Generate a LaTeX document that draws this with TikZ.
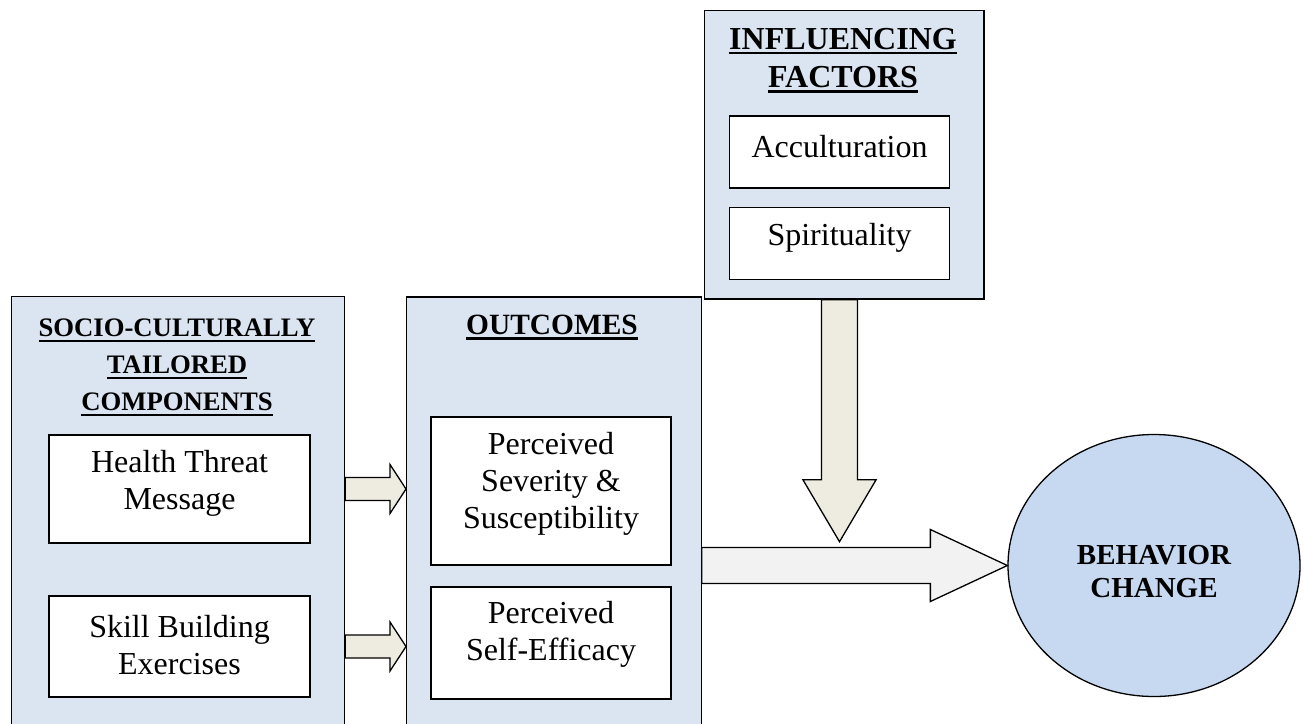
\documentclass[tikz,border=0pt]{standalone}
\usepackage{fontspec}
\setmainfont{Liberation Serif}
\usetikzlibrary{shapes.geometric,calc}
\definecolor{panelfill}{HTML}{DBE5F1}
\definecolor{circfill}{HTML}{C6D9F1}
\definecolor{tanfill}{HTML}{EEECE1}
\definecolor{greyfill}{HTML}{F2F2F2}
\newsavebox\ulbox
\newcommand\ulbf[1]{\sbox\ulbox{#1}\rlap{\smash{\rule[-5pt]{\wd\ulbox}{2.2pt}}}\usebox\ulbox}
\begin{document}
\begin{tikzpicture}[x=1pt,y=-1pt,
  panel/.style={draw=black, line width=1.3pt, fill=panelfill, rectangle, inner sep=0, anchor=north west},
  inbox/.style={draw=black, line width=1.3pt, fill=white, rectangle, inner sep=0},
  body/.style={font=\fontsize{32}{37}\selectfont, align=center, inner sep=0},
  ttl/.style={align=center, inner sep=0},
  blockarrow/.style={draw=black, line width=1.3pt, line join=miter}]
\useasboundingbox (0,0) rectangle (1303,723);
\clip (0,0) rectangle (1303,723);
% panels
\node[panel, minimum width=333, minimum height=460] (soc) at (11,296) {};
\node[panel, minimum width=294.5, minimum height=460] (out) at (406,296.4) {};
\node[panel, minimum width=279.5, minimum height=288.3] (inf) at (703.7,10) {};
% titles
\node[ttl, font=\bfseries\fontsize{26.7}{37}\selectfont] (soct) at (177,365) {\ulbf{SOCIO-CULTURALLY}\\\ulbf{TAILORED}\\\ulbf{COMPONENTS}};
\node[ttl, font=\bfseries\fontsize{32}{38.5}\selectfont] (inft) at (843,58) {\ulbf{INFLUENCING}\\\ulbf{FACTORS}};
\node[ttl, font=\bfseries\fontsize{29.4}{35}\selectfont] (outt) at (552,325) {\ulbf{OUTCOMES}};
% inner boxes
\node[inbox, minimum width=261, minimum height=108] (hbox) at (179.5,489) {};
\node[body] (htxt) at (179.5,483.5) {Health Threat\\Message};
\node[inbox, minimum width=261, minimum height=101] (sbox) at (179.5,646.5) {};
\node[body] (stxt) at (179.5,645) {Skill Building\\Exercises};
\node[inbox, minimum width=240, minimum height=148] (sevbox) at (551,491) {};
\node[body] (sevtxt) at (551,483.5) {Perceived\\Severity \&\\Susceptibility};
\node[inbox, minimum width=240, minimum height=112] (effbox) at (551,643) {};
\node[body] (efftxt) at (551,634) {Perceived\\Self-Efficacy};
\node[inbox, minimum width=220, minimum height=72] (accbox) at (839.5,152) {};
\node[body] (acctxt) at (839.5,146.6) {Acculturation};
\node[inbox, minimum width=220, minimum height=72] (spibox) at (839.5,243.5) {};
\node[body] (spitxt) at (839.5,237.4) {Spirituality};
% outcome circle
\node[ellipse, draw=black, line width=1.3pt, fill=circfill, minimum width=292, minimum height=262, inner sep=0] (bc) at (1154,565.5) {};
\node[ttl, font=\bfseries\fontsize{29}{33}\selectfont] (bctxt) at (1154,571.5) {BEHAVIOR\\CHANGE};
% arrows
\coordinate (a1s) at (soc.east |- hbox.center);
\coordinate (a1e) at (out.west |- hbox.center);
\draw[blockarrow, fill=tanfill] ($(a1s)+(0,-11.5)$) -- ($(a1e)+(-16,-11.5)$) -- ($(a1e)+(-16,-24.5)$) -- (a1e) -- ($(a1e)+(-16,24.5)$) -- ($(a1e)+(-16,11.5)$) -- ($(a1s)+(0,11.5)$) -- cycle;
\coordinate (a2s) at (soc.east |- sbox.center);
\coordinate (a2e) at (out.west |- sbox.center);
\draw[blockarrow, fill=tanfill] ($(a2s)+(0,-11.5)$) -- ($(a2e)+(-16,-11.5)$) -- ($(a2e)+(-16,-24.5)$) -- (a2e) -- ($(a2e)+(-16,24.5)$) -- ($(a2e)+(-16,11.5)$) -- ($(a2s)+(0,11.5)$) -- cycle;
\coordinate (ds) at (accbox.center |- inf.south);
\coordinate (dtip) at (839.5,541.7);
\draw[blockarrow, fill=tanfill] ($(ds)+(-18,0)$) -- ($(dtip)+(-18,-62)$) -- ($(dtip)+(-36.6,-62)$) -- (dtip) -- ($(dtip)+(36.6,-62)$) -- ($(dtip)+(18,-62)$) -- ($(ds)+(18,0)$) -- cycle;
\coordinate (rs) at (out.east |- bc.center);
\draw[blockarrow, fill=greyfill] ($(rs)+(0,-18)$) -- ($(bc.west)+(-77,-18)$) -- ($(bc.west)+(-77,-36)$) -- (bc.west) -- ($(bc.west)+(-77,36)$) -- ($(bc.west)+(-77,18)$) -- ($(rs)+(0,18)$) -- cycle;
\end{tikzpicture}
\end{document}
